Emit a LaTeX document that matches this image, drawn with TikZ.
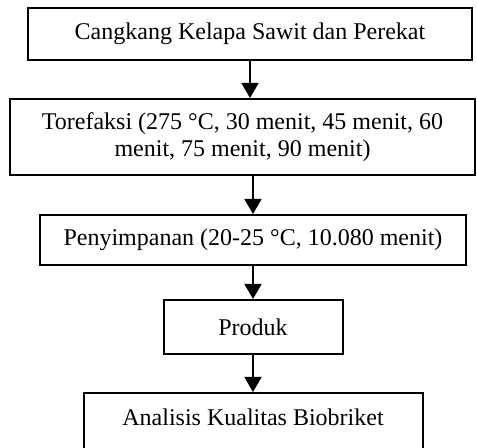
\documentclass[tikz,border=0pt]{standalone}
\usepackage{fontspec}
\setmainfont{Liberation Serif}
\usetikzlibrary{arrows.meta,positioning}

\begin{document}
\begin{tikzpicture}[x=0.5pt,y=-0.5pt,
    box/.style={draw, line width=1pt, align=center, inner sep=0pt,
      font=\fontsize{12}{13.8}\selectfont},
    flow/.style={-{Triangle[width=8.5pt,length=7.5pt]}, line width=0.8pt}]
  \useasboundingbox (0,0) rectangle (477,448);
  \clip (0,0) rectangle (477,448);
  % process steps, top to bottom
  \node[box, minimum width=222pt, minimum height=26pt] (bahan) at (250,34)
    {Cangkang Kelapa Sawit dan Perekat};
  \node[box, minimum width=232.5pt, minimum height=38pt] (torefaksi) at (242.5,137)
    {Torefaksi (275 °C, 30 menit, 45 menit, 60\\ menit, 75 menit, 90 menit)};
  \node[box, minimum width=213pt, minimum height=25pt] (simpan) at (253,240)
    {Penyimpanan (20-25 °C, 10.080 menit)};
  \node[box, minimum width=89.5pt, minimum height=27pt] (produk) at (253,327)
    {Produk};
  % last box runs past the bottom edge
  \node[box, anchor=north, minimum width=169.5pt, inner ysep=8pt] (analisis) at (253,392)
    {Analisis Kualitas Biobriket\\ ~};
  % arrows between the steps
  \draw[flow] (bahan.south) -- (bahan.south |- torefaksi.north);
  \draw[flow] (simpan.north |- torefaksi.south) -- (simpan.north);
  \draw[flow] (simpan.south) -- (produk.north);
  \draw[flow] (produk.south) -- (analisis.north);
\end{tikzpicture}
\end{document}
